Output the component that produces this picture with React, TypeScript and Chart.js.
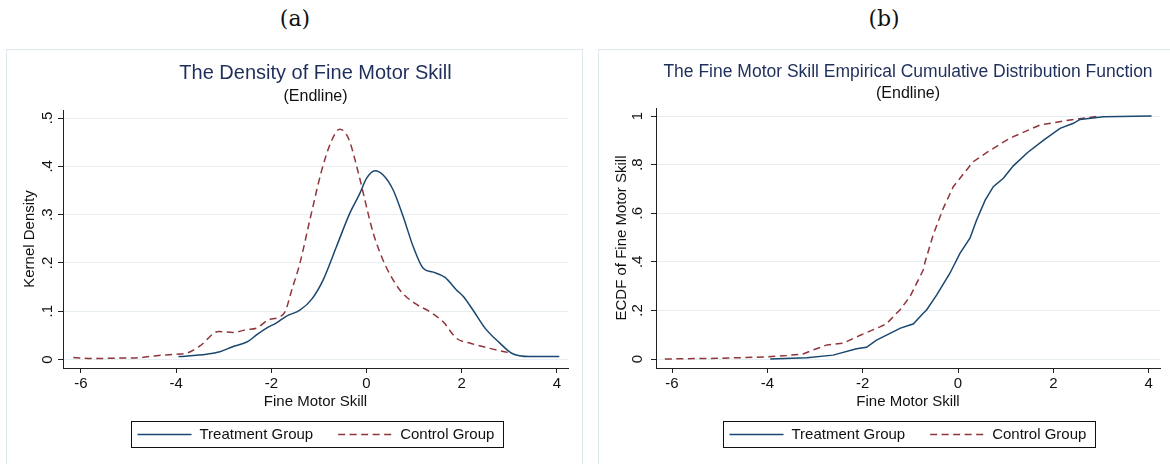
import React, { useEffect, useRef } from "react";
import { Chart, registerables } from "chart.js";

Chart.register(...registerables);

// ---------- data ----------
const seriesLabels = ["Treatment Group", "Control Group"];
const xTickValues = [-6, -4, -2, 0, 2, 4];
const densityYTicks = [0, 0.1, 0.2, 0.3, 0.4, 0.5];
const ecdfYTicks = [0, 0.2, 0.4, 0.6, 0.8, 1];

const densityTreatX = [-3.95, -3.36, -3.08, -2.8, -2.66, -2.48, -2.31, -2.1, -1.89, -1.68, -1.4, -1.15, -0.91, -0.63, -0.35, -0.14, 0.0, 0.18, 0.35, 0.56, 0.77, 0.98, 1.19, 1.4, 1.65, 1.89, 2.03, 2.24, 2.49, 2.8, 3.05, 3.43, 4.05];
const densityTreatY = [0.006, 0.011, 0.016, 0.027, 0.031, 0.038, 0.051, 0.065, 0.076, 0.09, 0.102, 0.125, 0.165, 0.234, 0.303, 0.344, 0.375, 0.391, 0.382, 0.351, 0.296, 0.234, 0.189, 0.181, 0.17, 0.144, 0.131, 0.102, 0.065, 0.034, 0.013, 0.006, 0.006];

const densityCtrlX = [-6.16, -5.74, -5.2, -4.76, -4.41, -3.99, -3.78, -3.5, -3.11, -2.8, -2.52, -2.31, -2.06, -1.85, -1.71, -1.57, -1.4, -1.19, -0.94, -0.73, -0.56, -0.38, -0.17, 0.04, 0.14, 0.28, 0.42, 0.7, 1.02, 1.33, 1.61, 1.89, 2.17, 2.59, 3.05];
const densityCtrlY = [0.004, 0.002, 0.003, 0.004, 0.008, 0.011, 0.013, 0.028, 0.058, 0.056, 0.062, 0.065, 0.082, 0.087, 0.099, 0.144, 0.199, 0.289, 0.392, 0.454, 0.477, 0.458, 0.386, 0.3, 0.262, 0.222, 0.19, 0.144, 0.116, 0.099, 0.078, 0.044, 0.034, 0.023, 0.013];

const ecdfTreatX = [-3.94, -3.17, -2.62, -2.13, -1.92, -1.71, -1.29, -1.22, -1.01, -0.94, -0.73, -0.66, -0.45, -0.17, 0.04, 0.25, 0.39, 0.57, 0.74, 0.95, 1.16, 1.46, 1.81, 2.14, 2.42, 2.56, 3.05, 4.06];
const ecdfTreatY = [0.0, 0.005, 0.016, 0.042, 0.048, 0.078, 0.119, 0.126, 0.14, 0.144, 0.188, 0.202, 0.263, 0.353, 0.435, 0.497, 0.572, 0.654, 0.709, 0.744, 0.795, 0.85, 0.903, 0.949, 0.97, 0.986, 0.997, 1.0];

const ecdfCtrlX = [-6.15, -5.0, -4.01, -3.6, -3.25, -3.0, -2.75, -2.41, -2.06, -1.64, -1.5, -1.29, -1.22, -1.01, -0.87, -0.73, -0.69, -0.52, -0.31, -0.1, 0.18, 0.32, 0.62, 1.02, 1.16, 1.72, 2.35, 2.98];
const ecdfCtrlY = [0.0, 0.003, 0.009, 0.014, 0.021, 0.04, 0.058, 0.065, 0.097, 0.132, 0.145, 0.188, 0.202, 0.256, 0.311, 0.366, 0.4, 0.512, 0.62, 0.709, 0.778, 0.812, 0.852, 0.901, 0.915, 0.963, 0.984, 1.0];

// ---------- styles ----------
const FONT = "'Liberation Sans', Arial, sans-serif";
const NAVY = "#1a476f";
const MAROON = "#90353b";
const TITLE_COLOR = "#1f2f5c";
const GRID = "#e6eef1";
const AXIS = "#222222";
const TEXT = "#111111";
const FRAME = "#dfe8ec";

const boxLegend = {
  id: "boxLegend",
  afterDraw(chart: any, _args: any, opts: any) {
    const { ctx, chartArea } = chart;
    const ds = chart.data.datasets;
    ctx.save();
    ctx.font = `15px ${FONT}`;
    const sample = 54, gapText = 8, gapItem = 25, padL = 6, padR = 9, h = 26;
    const widths = ds.map((d: any) => ctx.measureText(d.label).width);
    let total = padL + padR + gapItem * (ds.length - 1);
    ds.forEach((_d: any, i: number) => { total += sample + gapText + widths[i]; });
    const cx = (chartArea.left + chartArea.right) / 2 + 1;
    const left = Math.round(cx - total / 2) + 0.5;
    const top = Math.round(chartArea.bottom + opts.offset) + 0.5;
    ctx.strokeStyle = TEXT;
    ctx.lineWidth = 1;
    ctx.setLineDash([]);
    ctx.strokeRect(left, top, Math.round(total), h);
    const cy = top + h / 2;
    let x = left + padL;
    ds.forEach((d: any, i: number) => {
      ctx.beginPath();
      ctx.strokeStyle = d.borderColor;
      ctx.lineWidth = d.borderWidth;
      ctx.setLineDash(d.borderDash || []);
      ctx.moveTo(x, cy);
      ctx.lineTo(x + sample, cy);
      ctx.stroke();
      ctx.setLineDash([]);
      x += sample + gapText;
      ctx.fillStyle = TEXT;
      ctx.textBaseline = "middle";
      ctx.textAlign = "left";
      ctx.fillText(d.label, x, cy + 0.5);
      x += widths[i] + gapItem;
    });
    ctx.restore();
  },
};

type Panel = {
  title: string;
  titleSize: number;
  titlePadTop: number;
  subPadTop: number;
  subPadBottom: number;
  yTitle: string;
  yTicks: number[];
  yMin: number;
  yMax: number;
  xMin: number;
  xMax: number;
  yWidth: number;
  yTickPad: number;
  padRight: number;
  treatX: number[];
  treatY: number[];
  ctrlX: number[];
  ctrlY: number[];
  smooth: boolean;
};

const fmtY = (v: number) => {
  if (v === 0) return "0";
  if (v === 1) return "1";
  return String(Number(v.toFixed(2))).replace(/^0\./, ".");
};

function makeConfig(p: Panel): any {
  const tickFont = { family: FONT, size: 15 };
  return {
    type: "line",
    data: {
      datasets: [
        {
          label: seriesLabels[0],
          data: p.treatX.map((x, i) => ({ x, y: p.treatY[i] })),
          borderColor: NAVY,
          borderWidth: 1.5,
          pointRadius: 0,
          fill: false,
          cubicInterpolationMode: p.smooth ? "monotone" : "default",
          tension: 0,
        },
        {
          label: seriesLabels[1],
          data: p.ctrlX.map((x, i) => ({ x, y: p.ctrlY[i] })),
          borderColor: MAROON,
          borderWidth: 1.5,
          borderDash: [7, 4.5],
          pointRadius: 0,
          fill: false,
          cubicInterpolationMode: p.smooth ? "monotone" : "default",
          tension: 0,
        },
      ],
    },
    options: {
      responsive: false,
      animation: false,
      devicePixelRatio: 1,
      events: [],
      layout: { padding: { left: 0, right: p.padRight, top: 0, bottom: 51 } },
      plugins: {
        legend: { display: false },
        tooltip: { enabled: false },
        title: {
          display: true,
          text: p.title,
          color: TITLE_COLOR,
          fullSize: false,
          font: { family: FONT, size: p.titleSize, weight: "normal", lineHeight: 1.2 },
          padding: { top: p.titlePadTop, bottom: 0 },
        },
        subtitle: {
          display: true,
          text: "(Endline)",
          color: TEXT,
          fullSize: false,
          font: { family: FONT, size: 16, weight: "normal", lineHeight: 1.2 },
          padding: { top: p.subPadTop, bottom: p.subPadBottom },
        },
        boxLegend: { offset: 53 },
      },
      scales: {
        x: {
          type: "linear",
          min: p.xMin,
          max: p.xMax,
          afterBuildTicks: (s: any) => {
            s.ticks = xTickValues.map((v) => ({ value: v }));
          },
          afterFit: (s: any) => {
            s.height = 45;
          },
          grid: { drawOnChartArea: false, drawTicks: true, tickLength: 5, tickColor: AXIS, lineWidth: 1 },
          border: { display: true, color: AXIS, width: 1 },
          ticks: {
            font: tickFont,
            color: TEXT,
            padding: 2,
            maxRotation: 0,
            autoSkip: false,
            callback: (v: any) => String(v),
          },
          title: {
            display: true,
            text: "Fine Motor Skill",
            font: tickFont,
            color: TEXT,
            padding: { top: 0, bottom: 2 },
          },
        },
        y: {
          type: "linear",
          min: p.yMin,
          max: p.yMax,
          afterBuildTicks: (s: any) => {
            s.ticks = p.yTicks.map((v) => ({ value: v }));
          },
          afterFit: (s: any) => {
            s.width = p.yWidth;
          },
          grid: { color: GRID, lineWidth: 1, drawTicks: true, tickLength: 5, tickColor: AXIS },
          border: { display: true, color: AXIS, width: 1 },
          ticks: {
            font: tickFont,
            color: TEXT,
            minRotation: 90,
            maxRotation: 90,
            crossAlign: "center",
            padding: p.yTickPad,
            autoSkip: false,
            callback: (v: any) => fmtY(Number(v)),
          },
          title: {
            display: true,
            text: p.yTitle,
            font: tickFont,
            color: TEXT,
            padding: { top: 15, bottom: 0 },
          },
        },
      },
    },
    plugins: [boxLegend],
  };
}

const panelA: Panel = {
  title: "The Density of Fine Motor Skill",
  titleSize: 20,
  titlePadTop: 12,
  subPadTop: 2.4,
  subPadBottom: 3.4,
  yTitle: "Kernel Density",
  yTicks: densityYTicks,
  yMin: -0.0176,
  yMax: 0.5166,
  xMin: -6.376,
  xMax: 4.233,
  yWidth: 57,
  yTickPad: 3.75,
  padRight: 15,
  treatX: densityTreatX,
  treatY: densityTreatY,
  ctrlX: densityCtrlX,
  ctrlY: densityCtrlY,
  smooth: true,
};

const panelB: Panel = {
  title: "The Fine Motor Skill Empirical Cumulative Distribution Function",
  titleSize: 17.5,
  titlePadTop: 12.8,
  subPadTop: 1.6,
  subPadBottom: 4.4,
  yTitle: "ECDF of Fine Motor Skill",
  yTicks: ecdfYTicks,
  yMin: -0.037,
  yMax: 1.033,
  xMin: -6.336,
  xMax: 4.237,
  yWidth: 58,
  yTickPad: 6.75,
  padRight: 10,
  treatX: ecdfTreatX,
  treatY: ecdfTreatY,
  ctrlX: ecdfCtrlX,
  ctrlY: ecdfCtrlY,
  smooth: false,
};

function ChartCanvas({ panel, left, width }: { panel: Panel; left: number; width: number }) {
  const ref = useRef<HTMLCanvasElement | null>(null);
  useEffect(() => {
    if (!ref.current) return;
    const chart = new Chart(ref.current, makeConfig(panel));
    return () => chart.destroy();
  }, [panel]);
  return (
    <canvas
      ref={ref}
      width={width}
      height={415}
      style={{ position: "absolute", left, top: 49, width, height: 415 }}
    />
  );
}

const captionStyle: React.CSSProperties = {
  position: "absolute",
  top: 5,
  width: 100,
  textAlign: "center",
  fontFamily: "'DejaVu Serif', 'Liberation Serif', serif",
  fontSize: 22,
  lineHeight: "28px",
  color: "#111",
};

export default function App() {
  return (
    <div
      style={{
        position: "absolute",
        left: 0,
        top: 0,
        width: 1170,
        height: 464,
        overflow: "hidden",
        background: "#ffffff",
      }}
    >
      <div style={{ ...captionStyle, left: 245 }}>(a)</div>
      <div style={{ ...captionStyle, left: 834 }}>(b)</div>
      <div
        style={{
          position: "absolute",
          left: 6,
          top: 49,
          width: 577,
          height: 440,
          boxSizing: "border-box",
          border: `1px solid ${FRAME}`,
        }}
      />
      <div
        style={{
          position: "absolute",
          left: 598,
          top: 49,
          width: 600,
          height: 440,
          boxSizing: "border-box",
          border: `1px solid ${FRAME}`,
        }}
      />
      <ChartCanvas panel={panelA} left={6} width={577} />
      <ChartCanvas panel={panelB} left={598} width={572} />
    </div>
  );
}
